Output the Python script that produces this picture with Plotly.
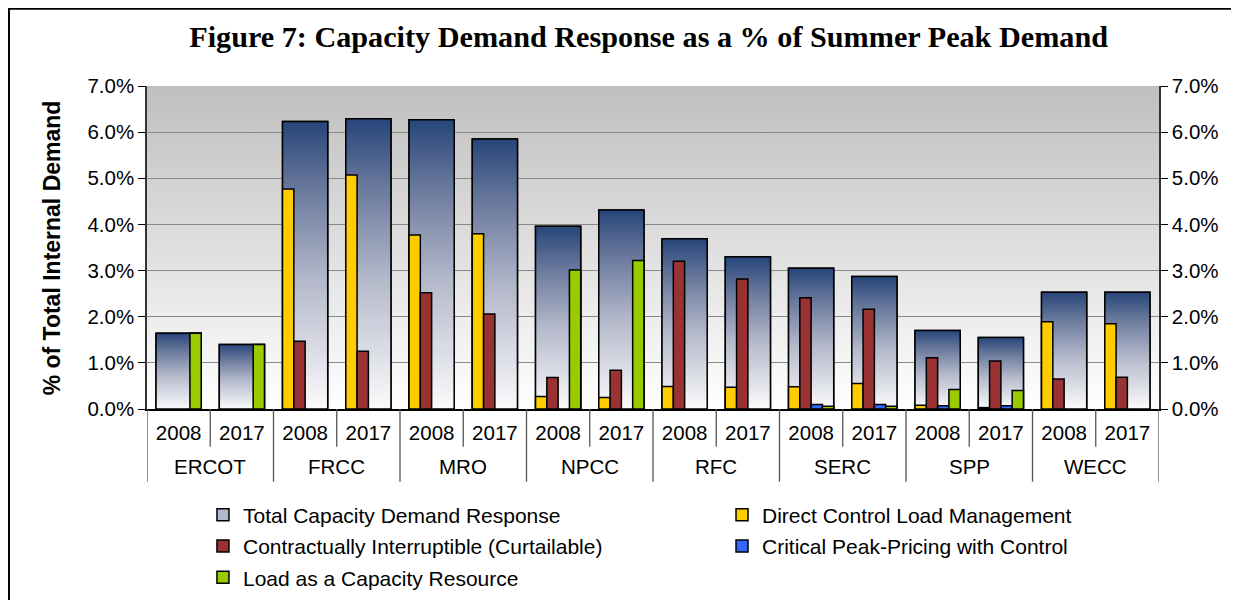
import base64
import plotly.graph_objects as go

# ---------------- data (percent of total internal demand) ----------------
regions = ["ERCOT", "FRCC", "MRO", "NPCC", "RFC", "SERC", "SPP", "WECC"]
years = ["2008", "2017"]

total_dr = [1.64, 1.40, 6.23, 6.29, 6.27, 5.85, 3.96, 4.31,
            3.69, 3.30, 3.05, 2.87, 1.70, 1.55, 2.53, 2.53]
direct_control = [0, 0, 4.77, 5.07, 3.77, 3.80, 0.27, 0.25,
                  0.49, 0.47, 0.48, 0.55, 0.08, 0.03, 1.89, 1.85]
interruptible = [0, 0, 1.47, 1.25, 2.52, 2.06, 0.68, 0.84,
                 3.20, 2.82, 2.41, 2.16, 1.11, 1.04, 0.65, 0.69]
critical_peak = [0, 0, 0, 0, 0, 0, 0, 0,
                 0, 0, 0.10, 0.10, 0.07, 0.07, 0, 0]
load_resource = [1.64, 1.40, 0, 0, 0, 0, 3.01, 3.22,
                 0, 0, 0.06, 0.06, 0.42, 0.40, 0, 0]

series_names = ["Total Capacity Demand Response",
                "Direct Control Load Management",
                "Contractually Interruptible (Curtailable)",
                "Critical Peak-Pricing with Control",
                "Load as a Capacity Resource"]
y_ticks = [0, 1, 2, 3, 4, 5, 6, 7]

# ---------------- styling ----------------
SANS = "Liberation Sans, Arial, sans-serif"
SERIF = "Liberation Serif, Times New Roman, serif"
colors = ["#b3b9cc", "#FFCC00", "#993333", "#3366FF", "#99CC00"]
legend_of = ["legend", "legend2", "legend", "legend2", "legend"]
grad_scale = [[0.0, "#fbfbfc"], [0.45, "#b3b8ca"], [0.78, "#66769a"], [1.0, "#27457a"]]

n = len(regions) * len(years)
pos = list(range(n))
labels_year = [years[i % 2] for i in pos]
BW = 0.714          # total bar width (category units)
SW = BW / 4         # small bar width


def frac(v):
    return [None if x == 0 else x / 100.0 for x in v]


fig = go.Figure()

# total bars (real bars, used for legend) + gradient overlay polygons
fig.add_trace(go.Bar(x=pos, y=frac(total_dr), width=BW, name=series_names[0],
                     legend=legend_of[0], legendgroup="g0",
                     marker=dict(color=colors[0], line=dict(color="black", width=1.5)),
                     xaxis="x", yaxis="y", hoverinfo="skip"))
for p, t in zip(pos, total_dr):
    x0, x1, top = p - BW / 2, p + BW / 2, t / 100.0
    fig.add_trace(go.Scatter(x=[x0, x0, x1, x1, x0], y=[0, top, top, 0, 0],
                             mode="lines", fill="toself",
                             fillgradient=dict(type="vertical", colorscale=grad_scale),
                             line=dict(color="black", width=1.5),
                             showlegend=False, hoverinfo="skip",
                             xaxis="x", yaxis="y"))

# component bars on overlaid subplot (drawn above the totals)
comp = [direct_control, interruptible, critical_peak, load_resource]
for k, vals in enumerate(comp):
    fig.add_trace(go.Bar(x=pos, y=frac(vals), width=SW, offset=-BW / 2 + k * SW,
                         name=series_names[k + 1], legend=legend_of[k + 1],
                         legendgroup="g%d" % (k + 1),
                         marker=dict(color=colors[k + 1], line=dict(color="black", width=1.5)),
                         xaxis="x2", yaxis="y2"))

# background gradient as an svg image
svg = ('<svg xmlns="http://www.w3.org/2000/svg" width="10" height="100" preserveAspectRatio="none">'
       '<defs><linearGradient id="g" x1="0" y1="0" x2="0" y2="1">'
       '<stop offset="0" stop-color="#bfbfbf"/><stop offset="1" stop-color="#ffffff"/>'
       '</linearGradient></defs><rect width="10" height="100" fill="url(#g)"/></svg>')
bg_src = "data:image/svg+xml;base64," + base64.b64encode(svg.encode()).decode()

# bottom table separators
shapes = []
for i in range(n + 1):
    xb = i - 0.5
    region_edge = (i % 2 == 0)
    shapes.append(dict(type="line", xref="x", yref="paper", x0=xb, x1=xb,
                       y0=0, y1=-0.225 if region_edge else -0.117,
                       line=dict(color="#555555", width=1.3)))
# outer frame
shapes.append(dict(type="rect", xref="paper", yref="paper",
                   x0=-0.1364, x1=1.0751, y0=-0.75, y1=1.239,
                   line=dict(color="black", width=2)))

annotations = []
for r, name in enumerate(regions):
    annotations.append(dict(text=name, x=2 * r + 0.5, xref="x", y=-0.178, yref="paper",
                            showarrow=False, font=dict(family=SANS, size=20.5, color="black"),
                            xanchor="center", yanchor="middle"))
annotations.append(dict(text="<b>% of Total Internal Demand</b>", textangle=-90,
                        x=-0.094, xref="paper", y=0.5, yref="paper", showarrow=False,
                        font=dict(family=SANS, size=23, color="black"),
                        xanchor="center", yanchor="middle"))

yax = dict(range=[0, 0.07], tickvals=[v / 100 for v in y_ticks], tickformat=".1%",
           ticks="outside", ticklen=7, tickcolor="black", tickwidth=1.3,
           showline=True, linecolor="#333333", linewidth=1.5,
           tickfont=dict(family=SANS, size=20.5, color="black"), fixedrange=True)

leg_common = dict(orientation="v", yanchor="top", xanchor="left", tracegroupgap=1,
                  font=dict(family=SANS, size=21, color="black"),
                  bgcolor="rgba(0,0,0,0)", itemclick=False, itemdoubleclick=False)

fig.update_layout(
    width=1231, height=592,
    margin=dict(l=139, r=80, t=78, b=191, autoexpand=False),
    paper_bgcolor="white", plot_bgcolor="rgba(0,0,0,0)",
    barmode="overlay",
    title=dict(text="<b>Figure 7: Capacity Demand Response as a % of Summer Peak Demand</b>",
               x=0.5204, xref="container", xanchor="center",
               y=1 - 28 / 592, yref="container", yanchor="middle",
               font=dict(family=SERIF, size=30.2, color="black")),
    xaxis=dict(range=[-0.5, n - 0.5], tickvals=pos, ticktext=labels_year,
               showgrid=False, zeroline=False, showline=True, linecolor="black", linewidth=1.5,
               ticks="", tickfont=dict(family=SANS, size=20.5, color="black"),
               ticklabelstandoff=5, fixedrange=True),
    xaxis2=dict(range=[-0.5, n - 0.5], overlaying="x", visible=False, fixedrange=True),
    yaxis=dict(**yax, showgrid=True, gridcolor="#8a8a8a", gridwidth=1.3, zeroline=False),
    yaxis2=dict(**yax, overlaying="y", side="right", anchor="x2", showgrid=False, zeroline=False),
    images=[dict(source=bg_src, xref="paper", yref="paper", x=0, y=1, sizex=1, sizey=1,
                 xanchor="left", yanchor="top", sizing="stretch", layer="below")],
    shapes=shapes, annotations=annotations,
    legend=dict(**leg_common, x=0.0553, y=-0.265),
    legend2=dict(**leg_common, x=0.5682, y=-0.265),
    showlegend=True,
)

fig.write_html("out.html")
